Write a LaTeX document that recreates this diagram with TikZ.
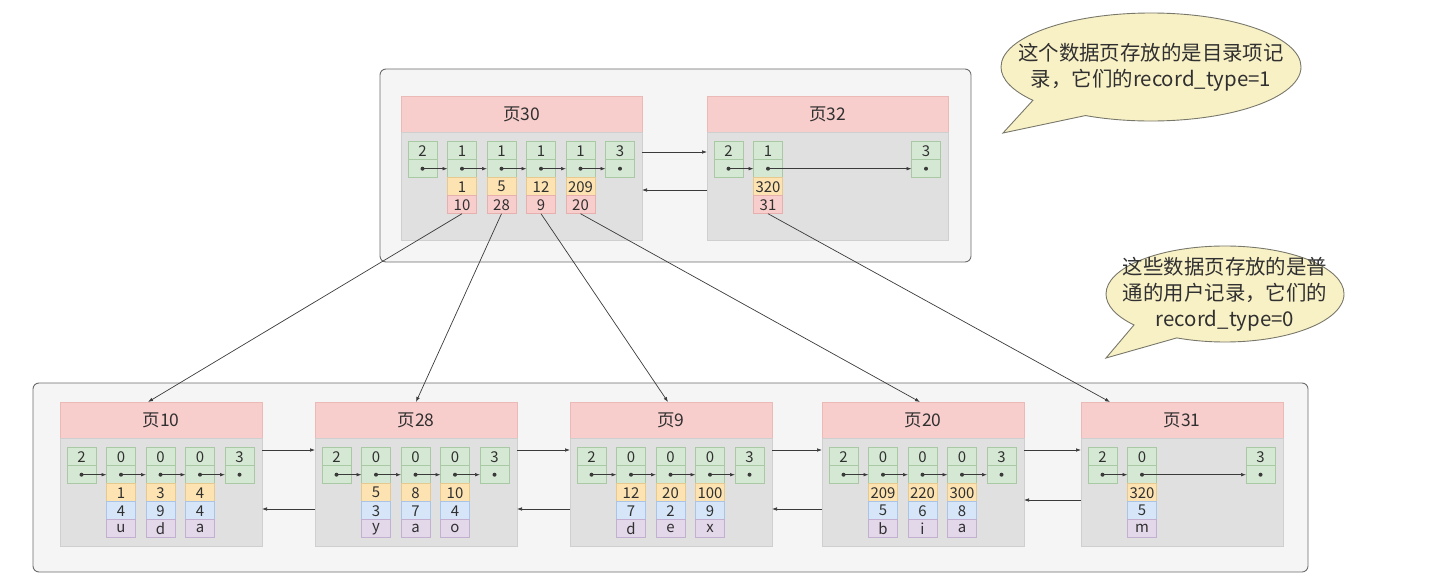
\documentclass[tikz,border=0pt]{standalone}
\usepackage{fontspec}
\setmainfont{Noto Sans CJK SC}
\usetikzlibrary{arrows.meta,calc,shapes.callouts}

\definecolor{ink}{HTML}{303030}
\definecolor{linec}{HTML}{3A3A3A}
\definecolor{framec}{HTML}{6B6B6B}
\definecolor{framebg}{HTML}{F5F5F5}
\definecolor{headbg}{HTML}{F8CECC}
\definecolor{headc}{HTML}{EBBAB7}
\definecolor{bodybg}{HTML}{E0E0E0}
\definecolor{bodyc}{HTML}{CFCFCF}
\definecolor{grnbg}{HTML}{D5E8D4}
\definecolor{grnc}{HTML}{A9C9A4}
\definecolor{keybg}{HTML}{FCE3B1}
\definecolor{keyc}{HTML}{E6C98E}
\definecolor{ptrbg}{HTML}{F8CECC}
\definecolor{ptrc}{HTML}{E6B0AE}
\definecolor{valbg}{HTML}{D6E6F8}
\definecolor{valc}{HTML}{A9C4E6}
\definecolor{colbg}{HTML}{E3D7EA}
\definecolor{colc}{HTML}{C3AFD0}
\definecolor{notebg}{HTML}{F9F1C6}
\definecolor{notec}{HTML}{77776A}

\newcommand\pgtitlefont{\fontsize{17.5}{19}\selectfont}
\newcommand\pgcellfont{\fontsize{15}{16}\selectfont}
\newcommand\pgnotefont{\fontsize{20.5}{26}\selectfont}

\tikzset{
  every node/.style={text=ink},
  frame/.style={draw=framec, fill=framebg, rounded corners=6bp, line width=0.9bp,
    inner sep=0, outer sep=0, anchor=north west},
  pagehead/.style={draw=headc, fill=headbg, minimum height=36bp, inner sep=0,
    outer sep=0, anchor=north west, font=\pgtitlefont, line width=0.6bp},
  pagebody/.style={draw=bodyc, fill=bodybg, minimum height=108bp, inner sep=0,
    outer sep=0, anchor=north west, line width=0.6bp},
  slot/.style={draw=grnc, fill=grnbg, minimum width=29bp, minimum height=18bp,
    inner sep=0, outer sep=0, font=\pgcellfont, line width=0.6bp},
  keyrec/.style={slot, draw=keyc, fill=keybg, anchor=north},
  ptrrec/.style={slot, draw=ptrc, fill=ptrbg, anchor=north},
  valrec/.style={slot, draw=valc, fill=valbg, anchor=north},
  colrec/.style={slot, draw=colc, fill=colbg, anchor=north},
  link/.style={draw=linec, line width=0.7bp, -{Latex[length=5bp,width=3.6bp]}},
  note/.style={ellipse callout, draw=notec, fill=notebg, line width=0.9bp,
    inner sep=0, callout pointer arc=26},
  notetext/.style={align=center, font=\pgnotefont, inner sep=0},
}

% one page: title bar plus body
\newcommand\pagebox[5]{% name, left, top, width, title
  \node[pagehead, minimum width=#4] (#1h) at (#2,#3) {#5};
  \node[pagebody, minimum width=#4] (#1) at (#1h.south west) {};
}
% one slot of the page directory: number on top, next-pointer dot below
\newcommand\slotat[3]{% page, column, number
  \node[slot, anchor=north west] (#1s#2t) at ($(#1h.north west)+({7+(#2-1)*39.5},45.7)$) {#3};
  \node[slot, anchor=north] (#1s#2b) at (#1s#2t.south) {};
  \fill[linec] (#1s#2b.center) circle (2bp);
}
% directory record: key and child page number
\newcommand\dirrec[3]{% slot, key, page no.
  \node[keyrec] (#1k) at (#1b.south) {#2};
  \node[ptrrec] (#1p) at (#1k.south) {#3};
}
% user record: key, value, column
\newcommand\userrec[4]{% slot, key, value, column
  \node[keyrec] (#1k) at (#1b.south) {#2};
  \node[valrec] (#1v) at (#1k.south) {#3};
  \node[colrec] (#1c) at (#1v.south) {#4};
}

\begin{document}
\begin{tikzpicture}[x=1bp, y=-1bp]
\useasboundingbox (0,0) rectangle (1456,573);

% level frames
\node[frame, minimum width=591bp, minimum height=193bp] (upper) at (380,69) {};
\node[frame, minimum width=1275bp, minimum height=189bp] (lower) at (33,383) {};

% ---------- directory pages ----------
\pagebox{p30}{401}{96}{241bp}{页30}
\slotat{p30}{1}{2}
\slotat{p30}{2}{1}
\slotat{p30}{3}{1}
\slotat{p30}{4}{1}
\slotat{p30}{5}{1}
\slotat{p30}{6}{3}
\dirrec{p30s2}{1}{10}
\dirrec{p30s3}{5}{28}
\dirrec{p30s4}{12}{9}
\dirrec{p30s5}{209}{20}
\foreach \a/\b in {1/2,2/3,3/4,4/5,5/6}
  \draw[link] (p30s\a b.center) -- (p30s\b b.west);

\pagebox{p32}{707}{96}{241bp}{页32}
\slotat{p32}{1}{2}
\slotat{p32}{2}{1}
\slotat{p32}{6}{3}
\dirrec{p32s2}{320}{31}
\draw[link] (p32s1b.center) -- (p32s2b.west);
\draw[link] (p32s2b.center) -- (p32s6b.west);

\draw[link] (p30.east |- 0,152) -- (p32.west |- 0,152);
\draw[link] (p32.west |- 0,190) -- (p30.east |- 0,190);

% ---------- leaf pages ----------
\pagebox{p10}{60}{402}{202bp}{页10}
\pagebox{p28}{315}{402}{202bp}{页28}
\pagebox{p9}{570}{402}{202bp}{页9}
\pagebox{p20}{822}{402}{202bp}{页20}
\pagebox{p31}{1081}{402}{202bp}{页31}

\foreach \p in {p10,p28,p9,p20}{
  \slotat{\p}{1}{2}
  \slotat{\p}{2}{0}
  \slotat{\p}{3}{0}
  \slotat{\p}{4}{0}
  \slotat{\p}{5}{3}
  \foreach \a/\b in {1/2,2/3,3/4,4/5}
    \draw[link] (\p s\a b.center) -- (\p s\b b.west);
}
\userrec{p10s2}{1}{4}{u}
\userrec{p10s3}{3}{9}{d}
\userrec{p10s4}{4}{4}{a}
\userrec{p28s2}{5}{3}{y}
\userrec{p28s3}{8}{7}{a}
\userrec{p28s4}{10}{4}{o}
\userrec{p9s2}{12}{7}{d}
\userrec{p9s3}{20}{2}{e}
\userrec{p9s4}{100}{9}{x}
\userrec{p20s2}{209}{5}{b}
\userrec{p20s3}{220}{6}{i}
\userrec{p20s4}{300}{8}{a}

\slotat{p31}{1}{2}
\slotat{p31}{2}{0}
\slotat{p31}{5}{3}
\userrec{p31s2}{320}{5}{m}
\draw[link] (p31s1b.center) -- (p31s2b.west);
\draw[link] (p31s2b.center) -- (p31s5b.west);

% sibling links between leaf pages
\draw[link] (p10.east |- 0,450) -- (p28.west |- 0,450);
\draw[link] (p28.west |- 0,509) -- (p10.east |- 0,509);
\draw[link] (p28.east |- 0,450) -- (p9.west |- 0,450);
\draw[link] (p9.west |- 0,509) -- (p28.east |- 0,509);
\draw[link] (p9.east |- 0,450) -- (p20.west |- 0,450);
\draw[link] (p20.west |- 0,509) -- (p9.east |- 0,509);
\draw[link] (p20.east |- 0,450) -- (p31.west |- 0,450);
\draw[link] (p31.west |- 0,500) -- (p20.east |- 0,500);

% directory entries point down to their child pages
\draw[link] (p30s2p.south) -- (p10h.north -| 148,0);
\draw[link] (p30s3p.south) -- (p28h.north -| 416,0);
\draw[link] (p30s4p.south) -- (p9h.north -| 668,0);
\draw[link] (p30s5p.south) -- (p20h.north -| 920,0);
\draw[link] (p32s2p.south) -- (p31h.north -| 1110,0);

% notes
\node[note, minimum width=300bp, minimum height=108bp,
      callout absolute pointer={(1003,133)}] (note1) at (1151,67) {};
\node[notetext] (note1t) at (note1.center) {这个数据页存放的是目录项记\\录，它们的record\_type=1};
\node[note, minimum width=238bp, minimum height=96bp,
      callout absolute pointer={(1106,358)}] (note2) at (1225,294) {};
\node[notetext] (note2t) at (note2.center) {这些数据页存放的是普\\通的用户记录，它们的\\record\_type=0};
\end{tikzpicture}
\end{document}
